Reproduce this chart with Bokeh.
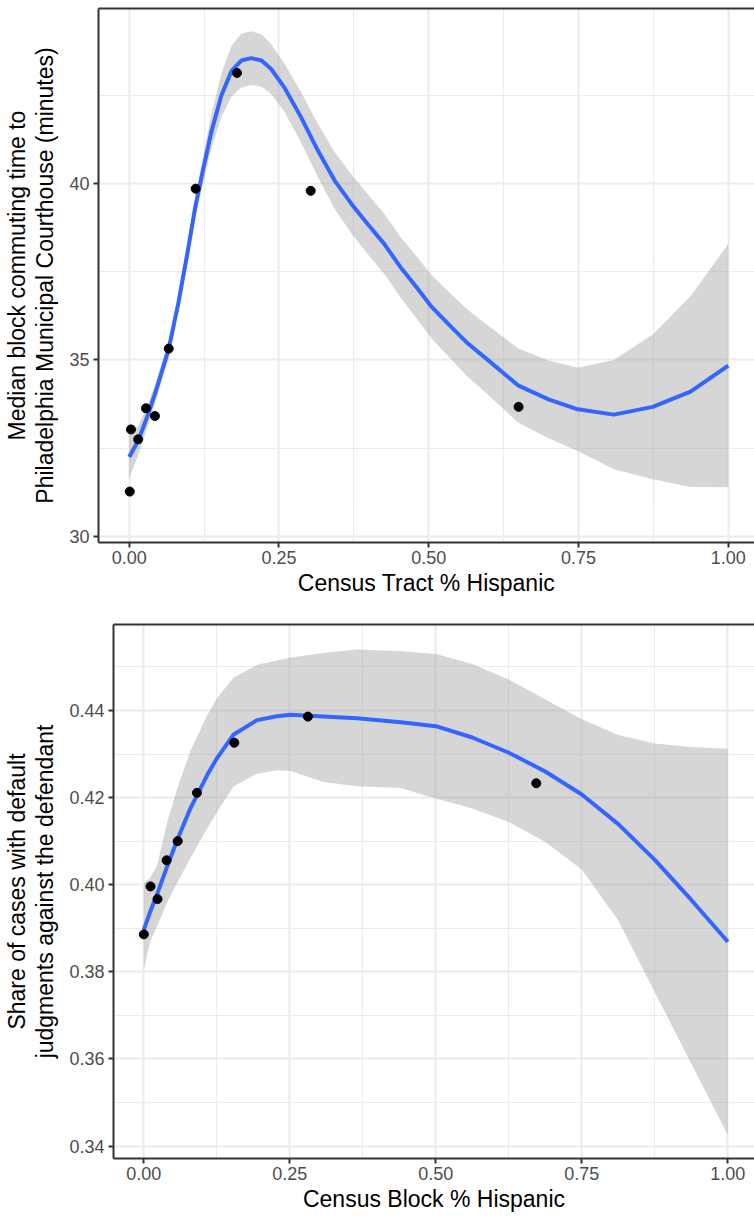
from bokeh.plotting import figure
from bokeh.models import FixedTicker, Range1d, NumeralTickFormatter, LinearAxis
from bokeh.embed import file_html
from bokeh.resources import INLINE

# ---------------- data: top panel (census tract) ----------------
tract_x = [0.001, 0.003, 0.015, 0.028, 0.043, 0.066, 0.111, 0.180, 0.303, 0.650]
tract_y = [31.27, 33.03, 32.75, 33.63, 33.41, 35.32, 39.85, 43.13, 39.79, 33.67]

tract_fit_x = [0.000, 0.015, 0.030, 0.045, 0.066, 0.082, 0.098, 0.110, 0.121, 0.137,
               0.154, 0.171, 0.187, 0.204, 0.221, 0.237, 0.259, 0.287, 0.315, 0.343,
               0.371, 0.398, 0.426, 0.454, 0.480, 0.505, 0.535, 0.565, 0.600, 0.649,
               0.700, 0.749, 0.809, 0.874, 0.937, 1.000]
tract_fit = [32.25, 32.71, 33.38, 34.14, 35.31, 36.60, 38.10, 39.30, 40.20, 41.45,
             42.50, 43.19, 43.48, 43.55, 43.48, 43.24, 42.72, 41.87, 40.93, 40.08,
             39.42, 38.85, 38.28, 37.60, 37.05, 36.50, 35.98, 35.47, 34.98, 34.28,
             33.88, 33.60, 33.45, 33.67, 34.10, 34.84]
tract_lo = [31.65, 32.29, 33.08, 33.88, 35.06, 36.34, 37.82, 39.00, 39.85, 40.97,
            41.88, 42.47, 42.72, 42.79, 42.74, 42.53, 42.04, 41.16, 40.18, 39.28,
            38.58, 38.00, 37.43, 36.74, 36.17, 35.60, 35.06, 34.52, 34.00, 33.23,
            32.78, 32.42, 31.90, 31.62, 31.40, 31.39]
tract_hi = [32.85, 33.13, 33.68, 34.40, 35.56, 36.86, 38.38, 39.60, 40.55, 41.93,
            43.12, 43.91, 44.24, 44.31, 44.22, 43.95, 43.40, 42.58, 41.68, 40.88,
            40.26, 39.70, 39.13, 38.46, 37.93, 37.40, 36.90, 36.42, 35.96, 35.33,
            34.98, 34.78, 35.00, 35.72, 36.80, 38.29]

# ---------------- data: bottom panel (census block) ----------------
block_x = [0.000, 0.0115, 0.0235, 0.039, 0.058, 0.091, 0.155, 0.281, 0.672]
block_y = [0.3886, 0.3996, 0.3967, 0.4056, 0.4100, 0.4211, 0.4326, 0.4386, 0.4233]

block_fit_x = [0.000, 0.011, 0.023, 0.040, 0.057, 0.080, 0.109, 0.126, 0.154, 0.194,
               0.228, 0.251, 0.308, 0.365, 0.440, 0.500, 0.5625, 0.625, 0.6875, 0.750,
               0.8125, 0.875, 0.9375, 1.000]
block_fit = [0.3897, 0.3938, 0.3979, 0.4042, 0.4102, 0.4176, 0.4253, 0.4292, 0.4345, 0.4378,
             0.4387, 0.4390, 0.4386, 0.4382, 0.4373, 0.4364, 0.4338, 0.4303, 0.4260, 0.4207,
             0.4139, 0.4057, 0.3965, 0.3869]
block_hi = [0.4004, 0.4016, 0.4045, 0.4144, 0.4220, 0.4308, 0.4390, 0.4430, 0.4476, 0.4505,
            0.4515, 0.4522, 0.4532, 0.4540, 0.4536, 0.4530, 0.4507, 0.4471, 0.4425, 0.4380,
            0.4344, 0.4324, 0.4316, 0.4312]
block_lo = [0.3806, 0.3870, 0.3905, 0.3960, 0.4004, 0.4062, 0.4130, 0.4168, 0.4226, 0.4255,
            0.4263, 0.4261, 0.4236, 0.4226, 0.4222, 0.4198, 0.4175, 0.4144, 0.4098, 0.4035,
            0.3918, 0.3753, 0.3589, 0.3425]

x_ticks = [0.0, 0.25, 0.5, 0.75, 1.0]
x_minor = [0.125, 0.375, 0.625, 0.875]
tract_y_ticks = [30, 35, 40]
tract_y_minor = [27.5, 32.5, 37.5, 42.5]
block_y_ticks = [0.34, 0.36, 0.38, 0.40, 0.42, 0.44]
block_y_minor = [0.33, 0.35, 0.37, 0.39, 0.41, 0.43, 0.45]

FONT = "Liberation Sans"
GRID = "#EBEBEB"
BORDER = "#333333"


def style(p, xlabel, ylabel, yticks, yminor, yfmt):
    # the panel's right edge lies just outside the window, so only left/bottom/top
    # borders are drawn (as axis lines)
    p.outline_line_color = None
    p.background_fill_color = "white"
    p.border_fill_color = "white"

    p.xaxis.ticker = FixedTicker(ticks=x_ticks, minor_ticks=x_minor)
    p.yaxis.ticker = FixedTicker(ticks=yticks, minor_ticks=yminor)
    p.xaxis.formatter = NumeralTickFormatter(format="0.00")
    p.yaxis.formatter = NumeralTickFormatter(format=yfmt)

    for ax in (p.xaxis, p.yaxis):
        ax.axis_line_color = BORDER
        ax.axis_line_width = 2
        ax.major_tick_line_color = BORDER
        ax.major_tick_line_width = 2
        ax.major_tick_out = 5
        ax.major_tick_in = 0
        ax.minor_tick_line_color = None
        ax.major_label_text_font = FONT
        ax.major_label_text_font_size = "18px"
        ax.major_label_text_color = "#4D4D4D"
        ax.axis_label_text_font = FONT
        ax.axis_label_text_font_size = "23px"
        ax.axis_label_text_font_style = "normal"
        ax.axis_label_text_color = "black"
        ax.axis_label_text_line_height = 1.1
    p.xaxis.major_label_standoff = 3
    p.xaxis.axis_label_standoff = 3
    p.yaxis.major_label_standoff = 4
    p.yaxis.axis_label_standoff = 8
    p.xaxis.axis_label = xlabel
    p.yaxis.axis_label = ylabel

    top = LinearAxis(ticker=FixedTicker(ticks=[]), axis_line_color=BORDER,
                     axis_line_width=2, major_tick_out=0, major_tick_in=0,
                     minor_tick_out=0, minor_tick_in=0, major_label_standoff=0,
                     major_label_text_font_size="0px", major_tick_line_color=None,
                     minor_tick_line_color=None)
    p.add_layout(top, "above")

    for g in (p.xgrid, p.ygrid):
        g.grid_line_color = GRID
        g.grid_line_width = 2
        g.minor_grid_line_color = GRID
        g.minor_grid_line_width = 1.1


# ---------------- top figure ----------------
p1 = figure(width=754, height=610, output_backend="svg", toolbar_location=None,
            x_range=Range1d(-0.0512, 1.0438), y_range=Range1d(29.827, 44.955),
            min_border_left=97, min_border_right=0, min_border_top=8,
            min_border_bottom=68)
style(p1, "Census Tract % Hispanic",
      "Median block commuting time to\nPhiladelphia Municipal Courthouse (minutes)",
      tract_y_ticks, tract_y_minor, "0")
p1.varea(x=tract_fit_x, y1=tract_lo, y2=tract_hi, fill_color="#999999", fill_alpha=0.4)
p1.line(x=tract_fit_x, y=tract_fit, line_color="#3366FF", line_width=4)
p1.scatter(x=tract_x, y=tract_y, size=9, fill_color="black", line_color="black")

# ---------------- bottom figure ----------------
p2 = figure(width=754, height=608, output_backend="svg", toolbar_location=None,
            x_range=Range1d(-0.0519, 1.0457), y_range=Range1d(0.33713, 0.45975),
            min_border_left=113, min_border_right=0, min_border_top=14,
            min_border_bottom=60)
style(p2, "Census Block % Hispanic",
      "Share of cases with default\njudgments against the defendant",
      block_y_ticks, block_y_minor, "0.00")
p2.varea(x=block_fit_x, y1=block_lo, y2=block_hi, fill_color="#999999", fill_alpha=0.4)
p2.line(x=block_fit_x, y=block_fit, line_color="#3366FF", line_width=4)
p2.scatter(x=block_x, y=block_y, size=9, fill_color="black", line_color="black")

open("out.html", "w").write(file_html([p1, p2], INLINE))
